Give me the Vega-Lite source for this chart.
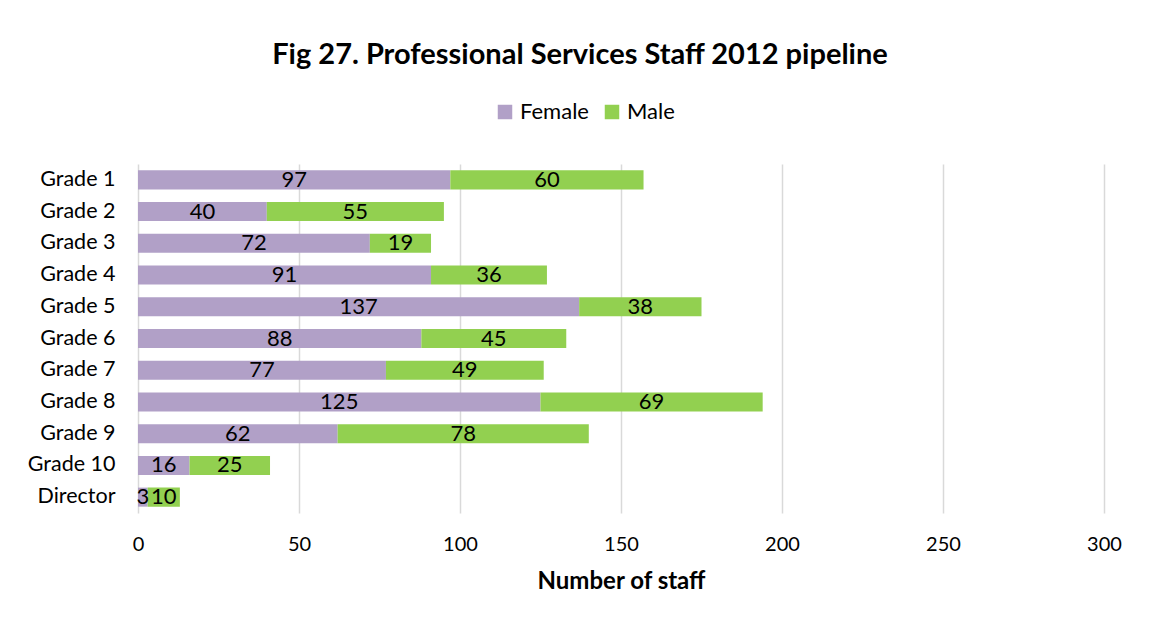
{
  "$schema": "https://vega.github.io/schema/vega-lite/v6.json",
  "autosize": {"type": "none"},
  "padding": {"left": 138, "top": 164, "right": 45, "bottom": 113},
  "width": 966,
  "height": 349,
  "background": "white",
  "title": {
    "text": "Fig 27. Professional Services Staff 2012 pipeline",
    "font": "Lato",
    "fontSize": 29,
    "fontWeight": "bold",
    "color": "#000000",
    "anchor": "middle",
    "dx": -41,
    "offset": 31
  },
  "data": {
    "values": [
      {"grade": "Grade 1", "gender": "Female", "order": 1, "staff": 97},
      {"grade": "Grade 1", "gender": "Male", "order": 2, "staff": 60},
      {"grade": "Grade 2", "gender": "Female", "order": 1, "staff": 40},
      {"grade": "Grade 2", "gender": "Male", "order": 2, "staff": 55},
      {"grade": "Grade 3", "gender": "Female", "order": 1, "staff": 72},
      {"grade": "Grade 3", "gender": "Male", "order": 2, "staff": 19},
      {"grade": "Grade 4", "gender": "Female", "order": 1, "staff": 91},
      {"grade": "Grade 4", "gender": "Male", "order": 2, "staff": 36},
      {"grade": "Grade 5", "gender": "Female", "order": 1, "staff": 137},
      {"grade": "Grade 5", "gender": "Male", "order": 2, "staff": 38},
      {"grade": "Grade 6", "gender": "Female", "order": 1, "staff": 88},
      {"grade": "Grade 6", "gender": "Male", "order": 2, "staff": 45},
      {"grade": "Grade 7", "gender": "Female", "order": 1, "staff": 77},
      {"grade": "Grade 7", "gender": "Male", "order": 2, "staff": 49},
      {"grade": "Grade 8", "gender": "Female", "order": 1, "staff": 125},
      {"grade": "Grade 8", "gender": "Male", "order": 2, "staff": 69},
      {"grade": "Grade 9", "gender": "Female", "order": 1, "staff": 62},
      {"grade": "Grade 9", "gender": "Male", "order": 2, "staff": 78},
      {"grade": "Grade 10", "gender": "Female", "order": 1, "staff": 16},
      {"grade": "Grade 10", "gender": "Male", "order": 2, "staff": 25},
      {"grade": "Director", "gender": "Female", "order": 1, "staff": 3},
      {"grade": "Director", "gender": "Male", "order": 2, "staff": 10}
    ]
  },
  "encoding": {
    "y": {
      "field": "grade",
      "type": "nominal",
      "sort": null,
      "scale": {"paddingInner": 0.4, "paddingOuter": 0.2},
      "axis": {
        "title": null,
        "domain": false,
        "ticks": false,
        "labelFont": "Lato",
        "labelFontSize": 21.5,
        "labelColor": "#000000",
        "labelPadding": 23
      }
    },
    "x": {
      "field": "staff",
      "type": "quantitative",
      "stack": "zero",
      "scale": {"domain": [0, 300], "nice": false},
      "axis": {
        "title": "Number of staff",
        "titleFont": "Lato",
        "titleFontSize": 24,
        "titleFontWeight": "bold",
        "titleColor": "#000000",
        "titlePadding": 15,
        "values": [0, 50, 100, 150, 200, 250, 300],
        "labelFont": "Lato",
        "labelFontSize": 20,
        "labelColor": "#000000",
        "labelPadding": 21,
        "labelFlush": false,
        "domain": false,
        "ticks": false,
        "grid": true,
        "gridColor": "#d9d9d9",
        "gridWidth": 1.5
      }
    },
    "order": {"field": "order", "type": "quantitative"}
  },
  "layer": [
    {
      "mark": {"type": "bar"},
      "encoding": {
        "color": {
          "field": "gender",
          "type": "nominal",
          "scale": {"domain": ["Female", "Male"], "range": ["#B1A0C7", "#92D050"]},
          "legend": {
            "title": null,
            "orient": "none",
            "legendX": 356,
            "legendY": -63,
            "direction": "horizontal",
            "symbolType": "square",
            "symbolSize": 210,
            "symbolStrokeWidth": 0,
            "labelFont": "Lato",
            "labelFontSize": 22,
            "labelColor": "#000000",
            "labelOffset": 4,
            "columnPadding": 12
          }
        }
      }
    },
    {
      "mark": {"type": "text", "font": "Lato", "fontSize": 22, "color": "#000000", "baseline": "middle", "align": "center"},
      "encoding": {
        "x": {"field": "staff", "type": "quantitative", "stack": "zero", "bandPosition": 0.5},
        "text": {"field": "staff", "type": "quantitative"}
      }
    }
  ],
  "config": {
    "view": {"stroke": null}
  }
}
